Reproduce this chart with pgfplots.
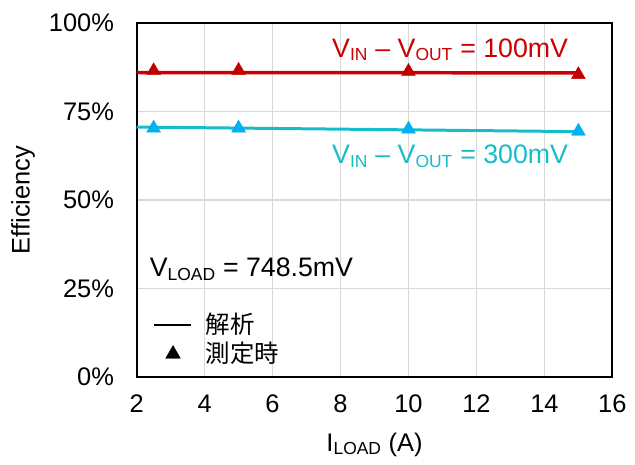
\documentclass[border=0pt]{standalone}
\usepackage{fontspec}
\setmainfont{Liberation Sans}
\newfontfamily\cjk{Noto Sans CJK JP}
\usepackage{pgfplots}
\pgfplotsset{compat=1.18}

\definecolor{redline}{HTML}{CC0000}
\definecolor{redmark}{HTML}{C00000}
\definecolor{cyanline}{HTML}{17BCCB}
\definecolor{cyanmark}{HTML}{00B0F0}
\definecolor{gridgray}{HTML}{D9D9D9}

\newcommand\lbl{\fontsize{26.8}{30}\selectfont}
\newcommand\sub[1]{\textsubscript{\fontsize{17.5}{20}\selectfont #1}}

\pgfplotsset{
  legline/.style={legend image code/.code={\draw[##1] (0pt,0pt) -- (37pt,0pt);}},
  legmark/.style={legend image code/.code={%
    \path[draw=none] (0pt,0pt) -- (37pt,0pt);
    \draw[##1] plot coordinates {(19pt,0pt)};}},
}

\begin{document}
\begin{tikzpicture}
\fontsize{25.5}{30}\selectfont
\begin{axis}[
  name=ax,
  scale only axis,
  width=477pt, height=355pt,
  xmin=2, xmax=16, ymin=0, ymax=100,
  xtick={2,4,...,16},
  ytick={0,25,50,75,100},
  yticklabel={\pgfmathprintnumber{\tick}\%},
  /pgf/number format/assume math mode=true,
  tick label style={font=\fontsize{25.5}{30}\selectfont},
  label style={font=\fontsize{25.5}{30}\selectfont},
  major tick length=0pt,
  grid=major,
  grid style={gridgray, line width=1.5pt},
  axis line style={black, line width=2pt},
  xticklabel style={yshift=-9pt},
  yticklabel style={xshift=-14pt},
  xlabel={I\sub{LOAD} (A)},
  ylabel={Efficiency},
  xlabel style={yshift=-3pt},
  ylabel style={yshift=-3pt},
  clip=false,
  legend style={at={(axis cs:2.39,19.4)}, anchor=north west, draw=none, fill=none,
    font=\cjk\fontsize{24.5}{28}\selectfont, row sep=1pt,
    /tikz/every odd column/.append style={column sep=12pt}},
  legend cell align=left,
]
% simulated efficiency
\addplot[redline, line width=3.5pt, forget plot] coordinates {(2,86.0) (15,85.9)};
\addplot[cyanline, line width=3pt, forget plot] coordinates {(2,70.6) (15,69.3)};
% measured efficiency
\addplot[only marks, mark=triangle*, mark size=8pt, redmark, forget plot]
  coordinates {(2.5,86.5) (5,86.6) (10,86.3) (15,85.4)};
\addplot[only marks, mark=triangle*, mark size=8pt, cyanmark, forget plot]
  coordinates {(2.5,70.3) (5,70.3) (10,70.0) (15,69.4)};

\addlegendimage{black, line width=2pt, legline}
\addlegendentry{解析}
\addlegendimage{black, mark=triangle*, mark size=8.5pt, legmark}
\addlegendentry{測定時}

\node[anchor=west, text=redline, inner sep=0pt] at (axis cs:7.75,92.4)
  {\lbl V\sub{IN} – V\sub{OUT} = 100mV};
\node[anchor=west, text=cyanline, inner sep=0pt] at (axis cs:7.75,62.3)
  {\lbl V\sub{IN} – V\sub{OUT} = 300mV};
\node[anchor=west, inner sep=0pt] at (axis cs:2.38,30.4)
  {\lbl V\sub{LOAD} = 748.5mV};
\end{axis}
\path (ax.south west) ++(-137pt,-88pt) (ax.north east) ++(21pt,23pt);
\end{tikzpicture}
\end{document}
